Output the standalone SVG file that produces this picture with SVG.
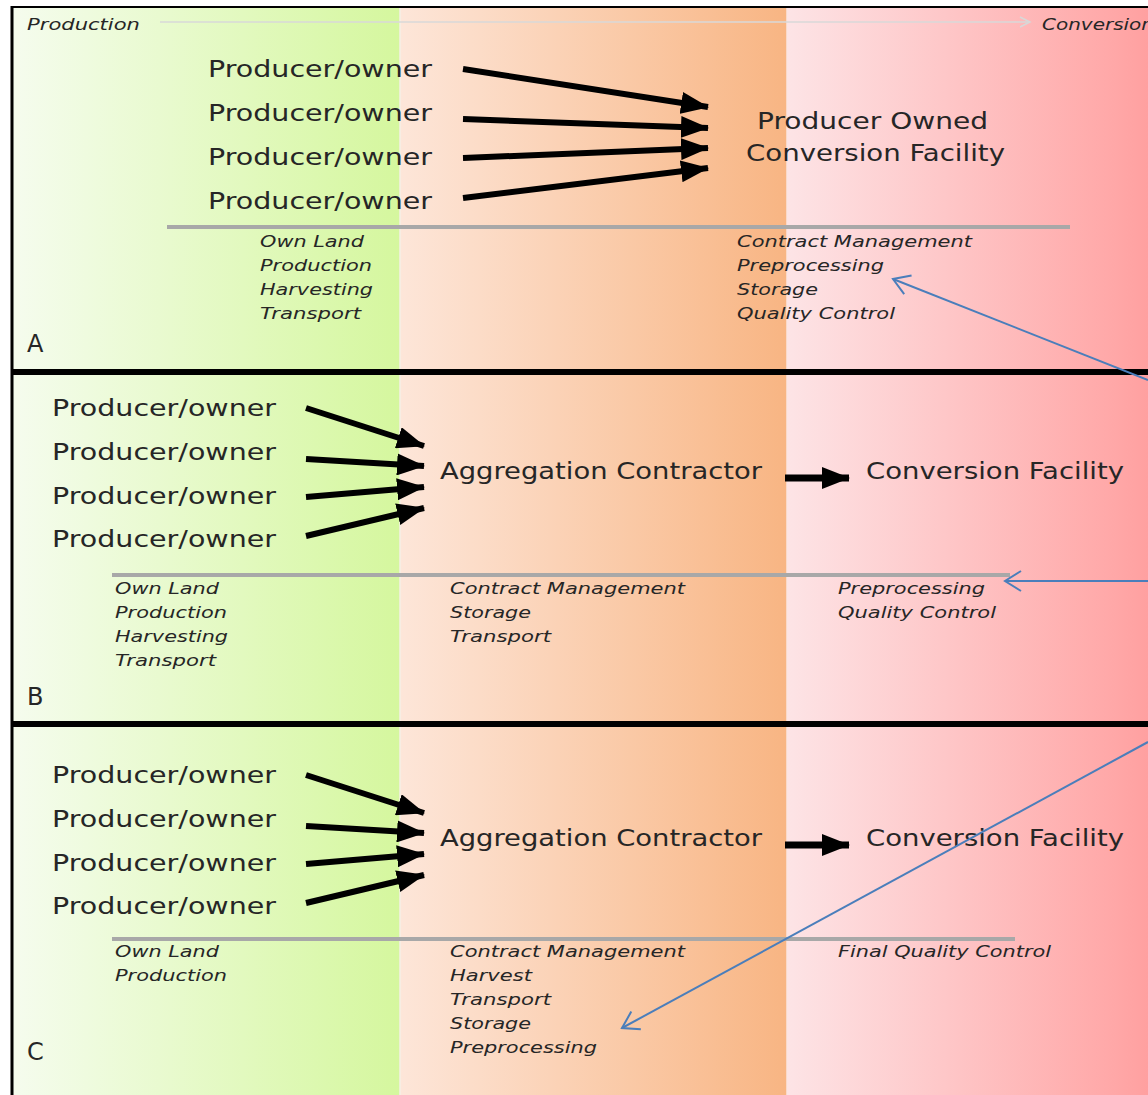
<svg xmlns="http://www.w3.org/2000/svg" width="1148" height="1095" viewBox="0 0 1148 1095">
<defs>
<linearGradient id="gGreen" x1="0" y1="0" x2="1" y2="0">
<stop offset="0" stop-color="#f5fcee"/><stop offset="1" stop-color="#d5f79e"/>
</linearGradient>
<linearGradient id="gOrange" x1="0" y1="0" x2="1" y2="0">
<stop offset="0" stop-color="#fde6d9"/><stop offset="1" stop-color="#f8b583"/>
</linearGradient>
<linearGradient id="gPink" x1="0" y1="0" x2="1" y2="0">
<stop offset="0" stop-color="#fde4e6"/><stop offset="0.9" stop-color="#ffa8a8"/><stop offset="1" stop-color="#ffa0a0"/>
</linearGradient>
<marker id="headBlack" markerUnits="userSpaceOnUse" markerWidth="28" markerHeight="22" refX="27" refY="11" orient="auto">
<path d="M0,0 L28,11 L0,22 Z" fill="#000"/>
</marker>
<marker id="headBlue" markerUnits="userSpaceOnUse" markerWidth="20" markerHeight="24" refX="18" refY="12" orient="auto">
<path d="M2,2 L18,12 L2,22" fill="none" stroke="#4a7ebb" stroke-width="2"/>
</marker>
<marker id="headGrey" markerUnits="userSpaceOnUse" markerWidth="14" markerHeight="14" refX="12" refY="7" orient="auto">
<path d="M2,2 L12,7 L2,12" fill="none" stroke="#d8d8d8" stroke-width="1.5"/>
</marker>
</defs>
<style>
.big{font-family:"DejaVu Sans","Liberation Sans",sans-serif;font-size:23px;fill:#262626}
.lbl{font-family:"DejaVu Sans","Liberation Sans",sans-serif;font-size:16.5px;font-style:italic;fill:#262626}
.let{font-family:"DejaVu Sans","Liberation Sans",sans-serif;font-size:24px;fill:#262626}
.sep{stroke:#000;stroke-width:6}
.grey{stroke:#a8a8a8;stroke-width:4}
.blk{stroke:#000;stroke-width:6;fill:none;marker-end:url(#headBlack)}
.blue{stroke:#4a7ebb;stroke-width:2;fill:none;marker-end:url(#headBlue)}
</style>
<!-- background -->
<rect x="0" y="0" width="1148" height="1095" fill="#ffffff"/>
<rect x="13" y="8" width="387" height="1087" fill="url(#gGreen)"/>
<rect x="400" y="8" width="387" height="1087" fill="url(#gOrange)"/>
<rect x="787" y="8" width="361" height="1087" fill="url(#gPink)"/>
<line x1="400" y1="8" x2="400" y2="1095" stroke="#f4efe6" stroke-width="1.5"/>
<line x1="787" y1="8" x2="787" y2="1095" stroke="#fbe6e2" stroke-width="1.5"/>
<line x1="11" y1="7" x2="1148" y2="7" stroke="#000" stroke-width="2"/>
<line x1="12" y1="6" x2="12" y2="1095" stroke="#000" stroke-width="3"/>
<line class="sep" x1="11" y1="372" x2="1148" y2="372"/>
<line class="sep" x1="11" y1="724" x2="1148" y2="724"/>

<!-- header -->
<g id="header">
<text class="lbl" x="27" y="30" textLength="113" lengthAdjust="spacingAndGlyphs">Production</text>
<line x1="160" y1="22" x2="1030" y2="22" stroke="#d8d8d8" stroke-width="1.5" marker-end="url(#headGrey)"/>
<text class="lbl" x="1042" y="30" textLength="112" lengthAdjust="spacingAndGlyphs">Conversion</text>
</g>

<!-- Panel A -->
<g id="panelA">
<g id="A-producers">
<text class="big" x="208" y="77" textLength="224" lengthAdjust="spacingAndGlyphs">Producer/owner</text>
<text class="big" x="208" y="121" textLength="224" lengthAdjust="spacingAndGlyphs">Producer/owner</text>
<text class="big" x="208" y="165" textLength="224" lengthAdjust="spacingAndGlyphs">Producer/owner</text>
<text class="big" x="208" y="209" textLength="224" lengthAdjust="spacingAndGlyphs">Producer/owner</text>
</g>
<g id="A-facility">
<text class="big" x="757" y="129" textLength="231" lengthAdjust="spacingAndGlyphs">Producer Owned</text>
<text class="big" x="746" y="161" textLength="259" lengthAdjust="spacingAndGlyphs">Conversion Facility</text>
</g>
<line class="grey" x1="167" y1="227" x2="1070" y2="227"/>
<g id="A-left-tasks">
<text class="lbl" x="260" y="247" textLength="104" lengthAdjust="spacingAndGlyphs">Own Land</text>
<text class="lbl" x="260" y="271" textLength="112" lengthAdjust="spacingAndGlyphs">Production</text>
<text class="lbl" x="260" y="295" textLength="113" lengthAdjust="spacingAndGlyphs">Harvesting</text>
<text class="lbl" x="260" y="319" textLength="101" lengthAdjust="spacingAndGlyphs">Transport</text>
</g>
<g id="A-right-tasks">
<text class="lbl" x="737" y="247" textLength="235" lengthAdjust="spacingAndGlyphs">Contract Management</text>
<text class="lbl" x="737" y="271" textLength="147" lengthAdjust="spacingAndGlyphs">Preprocessing</text>
<text class="lbl" x="737" y="295" textLength="81" lengthAdjust="spacingAndGlyphs">Storage</text>
<text class="lbl" x="737" y="319" textLength="158" lengthAdjust="spacingAndGlyphs">Quality Control</text>
</g>
<text class="let" x="27" y="352">A</text>
</g>

<!-- Panel B -->
<g id="panelB">
<g id="B-producers">
<text class="big" x="52" y="416" textLength="224" lengthAdjust="spacingAndGlyphs">Producer/owner</text>
<text class="big" x="52" y="460" textLength="224" lengthAdjust="spacingAndGlyphs">Producer/owner</text>
<text class="big" x="52" y="504" textLength="224" lengthAdjust="spacingAndGlyphs">Producer/owner</text>
<text class="big" x="52" y="547" textLength="224" lengthAdjust="spacingAndGlyphs">Producer/owner</text>
</g>
<g id="B-aggregator"><text class="big" x="440" y="479" textLength="322" lengthAdjust="spacingAndGlyphs">Aggregation Contractor</text></g>
<g id="B-facility"><text class="big" x="866" y="479" textLength="258" lengthAdjust="spacingAndGlyphs">Conversion Facility</text></g>
<line class="grey" x1="112" y1="575" x2="1010" y2="575"/>
<g id="B-left-tasks">
<text class="lbl" x="115" y="594" textLength="104" lengthAdjust="spacingAndGlyphs">Own Land</text>
<text class="lbl" x="115" y="618" textLength="112" lengthAdjust="spacingAndGlyphs">Production</text>
<text class="lbl" x="115" y="642" textLength="113" lengthAdjust="spacingAndGlyphs">Harvesting</text>
<text class="lbl" x="115" y="666" textLength="101" lengthAdjust="spacingAndGlyphs">Transport</text>
</g>
<g id="B-mid-tasks">
<text class="lbl" x="450" y="594" textLength="235" lengthAdjust="spacingAndGlyphs">Contract Management</text>
<text class="lbl" x="450" y="618" textLength="81" lengthAdjust="spacingAndGlyphs">Storage</text>
<text class="lbl" x="450" y="642" textLength="101" lengthAdjust="spacingAndGlyphs">Transport</text>
</g>
<g id="B-right-tasks">
<text class="lbl" x="838" y="594" textLength="147" lengthAdjust="spacingAndGlyphs">Preprocessing</text>
<text class="lbl" x="838" y="618" textLength="158" lengthAdjust="spacingAndGlyphs">Quality Control</text>
</g>
<text class="let" x="27" y="705">B</text>
</g>

<!-- Panel C -->
<g id="panelC">
<g id="C-producers">
<text class="big" x="52" y="783" textLength="224" lengthAdjust="spacingAndGlyphs">Producer/owner</text>
<text class="big" x="52" y="827" textLength="224" lengthAdjust="spacingAndGlyphs">Producer/owner</text>
<text class="big" x="52" y="871" textLength="224" lengthAdjust="spacingAndGlyphs">Producer/owner</text>
<text class="big" x="52" y="914" textLength="224" lengthAdjust="spacingAndGlyphs">Producer/owner</text>
</g>
<g id="C-aggregator"><text class="big" x="440" y="846" textLength="322" lengthAdjust="spacingAndGlyphs">Aggregation Contractor</text></g>
<g id="C-facility"><text class="big" x="866" y="846" textLength="258" lengthAdjust="spacingAndGlyphs">Conversion Facility</text></g>
<line class="grey" x1="112" y1="939" x2="1015" y2="939"/>
<g id="C-left-tasks">
<text class="lbl" x="115" y="957" textLength="104" lengthAdjust="spacingAndGlyphs">Own Land</text>
<text class="lbl" x="115" y="981" textLength="112" lengthAdjust="spacingAndGlyphs">Production</text>
</g>
<g id="C-mid-tasks">
<text class="lbl" x="450" y="957" textLength="235" lengthAdjust="spacingAndGlyphs">Contract Management</text>
<text class="lbl" x="450" y="981" textLength="82" lengthAdjust="spacingAndGlyphs">Harvest</text>
<text class="lbl" x="450" y="1005" textLength="101" lengthAdjust="spacingAndGlyphs">Transport</text>
<text class="lbl" x="450" y="1029" textLength="81" lengthAdjust="spacingAndGlyphs">Storage</text>
<text class="lbl" x="450" y="1053" textLength="147" lengthAdjust="spacingAndGlyphs">Preprocessing</text>
</g>
<g id="C-right-tasks">
<text class="lbl" x="838" y="957" textLength="213" lengthAdjust="spacingAndGlyphs">Final Quality Control</text>
</g>
<text class="let" x="27" y="1060">C</text>
</g>

<!-- connectors -->
<g id="connectors">
<line class="blk" x1="463" y1="69" x2="708" y2="107"/>
<line class="blk" x1="463" y1="119" x2="708" y2="128"/>
<line class="blk" x1="463" y1="158" x2="708" y2="148"/>
<line class="blk" x1="463" y1="198" x2="708" y2="168"/>

<line class="blk" x1="306" y1="408" x2="424" y2="446"/>
<line class="blk" x1="306" y1="459" x2="424" y2="466"/>
<line class="blk" x1="306" y1="497" x2="424" y2="487"/>
<line class="blk" x1="306" y1="536" x2="424" y2="508"/>
<line class="blk" x1="785" y1="478" x2="849" y2="478" style="stroke-width:7"/>

<line class="blk" x1="306" y1="775" x2="424" y2="813"/>
<line class="blk" x1="306" y1="826" x2="424" y2="833"/>
<line class="blk" x1="306" y1="864" x2="424" y2="854"/>
<line class="blk" x1="306" y1="903" x2="424" y2="875"/>
<line class="blk" x1="785" y1="845" x2="849" y2="845" style="stroke-width:7"/>

<line class="blue" x1="1148" y1="380" x2="893" y2="279"/>
<line class="blue" x1="1148" y1="581" x2="1005" y2="581"/>
<line class="blue" x1="1148" y1="742" x2="622" y2="1028"/>
</g>
</svg>
